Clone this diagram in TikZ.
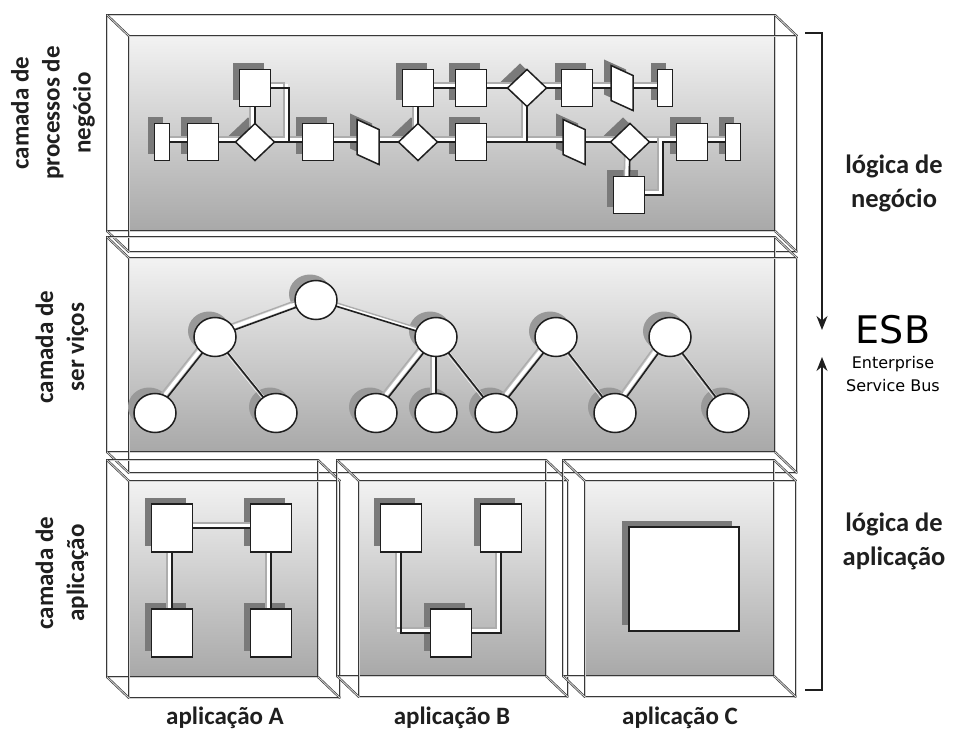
\documentclass[tikz,border=0pt]{standalone}
\usepackage{fontspec}
\setmainfont{Carlito}
\newfontfamily\esbfont{DejaVu Sans}
\usetikzlibrary{shapes.geometric,arrows.meta,calc}

\pgfdeclarelayer{boxes}
\pgfdeclarelayer{shades}
\pgfdeclarelayer{links}
\pgfsetlayers{boxes,shades,links,main}

\tikzset{
  boxline/.style={draw=black!78, line width=0.65pt, double=black!18, double distance=0.9pt},
  unit/.style={draw=black!88, line width=1.5pt, fill=white, inner sep=0pt, outer sep=0pt},
  sq/.style={unit, rectangle, minimum width=31pt, minimum height=37pt},
  thin/.style={unit, rectangle, minimum width=15pt, minimum height=37pt},
  dia/.style={unit, diamond, minimum width=39pt, minimum height=37pt},
  para/.style={rectangle, inner sep=0pt, outer sep=0pt, minimum width=22pt, minimum height=45pt},
  svc/.style={unit, ellipse, minimum width=42pt, minimum height=39pt},
  app/.style={unit, rectangle, minimum width=41pt, minimum height=48pt},
  big/.style={unit, rectangle, minimum width=110pt, minimum height=104pt},
  shc/.style={fill=black!52},
  shcirc/.style={fill=black!40},
  lnkdark/.style={draw=black!88, line width=1.6pt},
  lnklight/.style={draw=black!32, line width=1.4pt},
  lnkgap/.style={draw=white, line width=3.4pt},
  lbl/.style={font=\bfseries\fontsize{25}{31}\selectfont, align=center, text=black!88, inner sep=0pt},
  sidelbl/.style={lbl, font=\bfseries\fontsize{26.5}{34}\selectfont},
  brk/.style={draw=black!88, line width=1.3pt, -{Stealth[length=14pt,width=11pt]}}
}

% connector: double line (light offset copy, white gap, dark line)
\newcommand\lnk[3][--]{%
  \begin{pgfonlayer}{links}
    \draw[lnkgap] ([shift={(-2.5,-2.5)}]#2.center) #1 ([shift={(-2.5,-2.5)}]#3.center);
    \draw[lnklight] ([shift={(-5,-5)}]#2.center) #1 ([shift={(-5,-5)}]#3.center);
    \draw[lnkdark] (#2.center) #1 (#3.center);
  \end{pgfonlayer}}

% shadows of the units
\newcommand\shR[1]{%
  \begin{pgfonlayer}{shades}
    \fill[shc] ([shift={(-7,-6)}]#1.north west) rectangle ([shift={(-7,-6)}]#1.south east);
  \end{pgfonlayer}}
\newcommand\shD[1]{%
  \begin{pgfonlayer}{shades}
    \fill[shc] ([shift={(-7,-6)}]#1.north) -- ([shift={(-7,-6)}]#1.east)
      -- ([shift={(-7,-6)}]#1.south) -- ([shift={(-7,-6)}]#1.west) -- cycle;
  \end{pgfonlayer}}
\newcommand\shE[1]{%
  \begin{pgfonlayer}{shades}
    \fill[shcirc] ([shift={(-6,-6)}]#1.center) ellipse [x radius=21, y radius=19.5];
  \end{pgfonlayer}}
% slanted unit drawn on a named frame node
\newcommand\drawpara[1]{%
  \begin{pgfonlayer}{shades}
    \fill[shc] ([shift={(-7,-6)}]#1.north west) -- ([shift={(-7,4)}]#1.north east)
      -- ([shift={(-7,-6)}]#1.south east) -- ([shift={(-7,-16)}]#1.south west) -- cycle;
  \end{pgfonlayer}
  \draw[unit] (#1.north west) -- ([shift={(0,10)}]#1.north east)
    -- (#1.south east) -- ([shift={(0,-10)}]#1.south west) -- cycle;}

% transparent layer box: back face, front face shifted by (22,21)
\newcommand\layerbox[4]{%
  \begin{pgfonlayer}{boxes}
    \shade[top color=black!5, middle color=black!11, bottom color=black!34]
      (#1+22,#2+21) rectangle (#3,#4);
    \draw[boxline] (#1,#2) rectangle (#3,#4);
    \draw[boxline] (#1+22,#2+21) rectangle (#3+22,#4+21);
    \draw[boxline] (#1,#2) -- (#1+22,#2+21);
    \draw[boxline] (#3,#2) -- (#3+22,#2+21);
    \draw[boxline] (#1,#4) -- (#1+22,#4+21);
    \draw[boxline] (#3,#4) -- (#3+22,#4+21);
  \end{pgfonlayer}}

\begin{document}
\begin{tikzpicture}[x=1pt,y=-1pt]
\begin{pgfonlayer}{boxes}
  \fill[white] (0,0) rectangle (954,733);
\end{pgfonlayer}
\useasboundingbox (0,0) rectangle (954,733);

% ---------- layer boxes ----------
\layerbox{107}{15}{775}{231}
\layerbox{107}{237}{775}{452}
\layerbox{107}{460}{318}{677}
\layerbox{337}{460}{546}{676}
\layerbox{563}{460}{774}{676}

% ---------- business process layer ----------
\node[thin] (r1) at (162,142) {};  \shR{r1}
\node[sq]   (r2) at (203,142) {};  \shR{r2}
\node[dia]  (r3) at (255,142) {};  \shD{r3}
\node[sq]   (r4) at (318,142) {};  \shR{r4}
\node[para] (r5) at (368,142) {};  \drawpara{r5}
\node[dia]  (r6) at (418,142) {};  \shD{r6}
\node[sq]   (r7) at (471,142) {};  \shR{r7}
\node[para] (r8) at (574,142) {};  \drawpara{r8}
\node[dia]  (r9) at (630,142) {};  \shD{r9}
\node[sq]   (r10) at (692,142) {}; \shR{r10}
\node[thin] (r11) at (733,142) {}; \shR{r11}

\node[sq]   (u1) at (255,88) {};   \shR{u1}
\node[sq]   (u2) at (418,88) {};   \shR{u2}
\node[sq]   (u3) at (471,88) {};   \shR{u3}
\node[dia]  (u4) at (527,88) {};   \shD{u4}
\node[sq]   (u5) at (577,88) {};   \shR{u5}
\node[para] (u6) at (622,88) {};   \drawpara{u6}
\node[thin] (u7) at (665,88) {};   \shR{u7}

\node[sq]   (w1) at (629,195) {};  \shR{w1}

\coordinate (j1) at (289,142);
\coordinate (j2) at (527,142);
\coordinate (j3) at (663,142);

\lnk{r1}{r2} \lnk{r2}{r3} \lnk{r3}{r4} \lnk{r4}{r5} \lnk{r5}{r6}
\lnk{r6}{r7} \lnk{r7}{r8} \lnk{r8}{r9} \lnk{r9}{r10} \lnk{r10}{r11}
\lnk{u1}{r3} \lnk[-|]{u1}{j1}
\lnk{u2}{r6} \lnk{u2}{u3} \lnk{u3}{u4} \lnk{u4}{u5} \lnk{u5}{u6} \lnk{u6}{u7}
\lnk{u4}{j2}
\lnk{r9}{w1} \lnk[-|]{w1}{j3}

% ---------- service layer ----------
\node[svc] (s0) at (316,300) {}; \shE{s0}
\node[svc] (s1) at (215,337) {}; \shE{s1}
\node[svc] (s2) at (436,337) {}; \shE{s2}
\node[svc] (s3) at (556,337) {}; \shE{s3}
\node[svc] (s4) at (670,337) {}; \shE{s4}
\node[svc] (b1) at (155,413) {}; \shE{b1}
\node[svc] (b2) at (276,413) {}; \shE{b2}
\node[svc] (b3) at (376,413) {}; \shE{b3}
\node[svc] (b4) at (436,413) {}; \shE{b4}
\node[svc] (b5) at (496,413) {}; \shE{b5}
\node[svc] (b6) at (615,413) {}; \shE{b6}
\node[svc] (b7) at (728,413) {}; \shE{b7}

\lnk{s0}{s1} \lnk{s0}{s2}
\lnk{s1}{b1} \lnk{s1}{b2}
\lnk{s2}{b3} \lnk{s2}{b4} \lnk{s2}{b5}
\lnk{b5}{s3} \lnk{s3}{b6} \lnk{b6}{s4} \lnk{s4}{b7}

% ---------- application layer ----------
\node[app] (a1) at (172,528) {}; \shR{a1}
\node[app] (a2) at (271,528) {}; \shR{a2}
\node[app] (a3) at (172,633) {}; \shR{a3}
\node[app] (a4) at (271,633) {}; \shR{a4}
\lnk{a1}{a2} \lnk{a1}{a3} \lnk{a2}{a4}

\node[app] (a5) at (401,528) {}; \shR{a5}
\node[app] (a6) at (501,528) {}; \shR{a6}
\node[app] (a7) at (451,633) {}; \shR{a7}
\lnk[|-]{a5}{a7} \lnk[|-]{a6}{a7}

\node[big] (a8) at (684,579) {}; \shR{a8}

% ---------- labels ----------
\node[lbl, rotate=90] (t1) at (53,113) {camada de\\processos de\\negócio};
\node[lbl, rotate=90] (t2) at (62,347) {camada de\\ser viços};
\node[lbl, rotate=90] (t3) at (62,573) {camada de\\aplicação};

\node[lbl] (n1) at (225,718) {aplicação A};
\node[lbl] (n2) at (452,718) {aplicação B};
\node[lbl] (n3) at (680,718) {aplicação C};

\node[sidelbl] (l1) at (894,183) {lógica de\\negócio};
\node[sidelbl] (l2) at (894,541) {lógica de\\aplicação};

\node[font=\esbfont\fontsize{38}{40}\selectfont, inner sep=0pt] (esb) at (893,330) {ESB};
\node[font=\esbfont\fontsize{16}{23}\selectfont, align=center, inner sep=0pt] (esbl) at (893,374) {Enterprise\\Service Bus};

% ---------- bracket with arrows ----------
\coordinate (k0) at (805,33);
\coordinate (k1) at (822,33);
\coordinate (k2) at (822,330);
\coordinate (m0) at (805,690);
\coordinate (m1) at (822,690);
\coordinate (m2) at (822,357);
\draw[brk] (k0) -- (k1) -- (k2);
\draw[brk] (m0) -- (m1) -- (m2);
\end{tikzpicture}
\end{document}
